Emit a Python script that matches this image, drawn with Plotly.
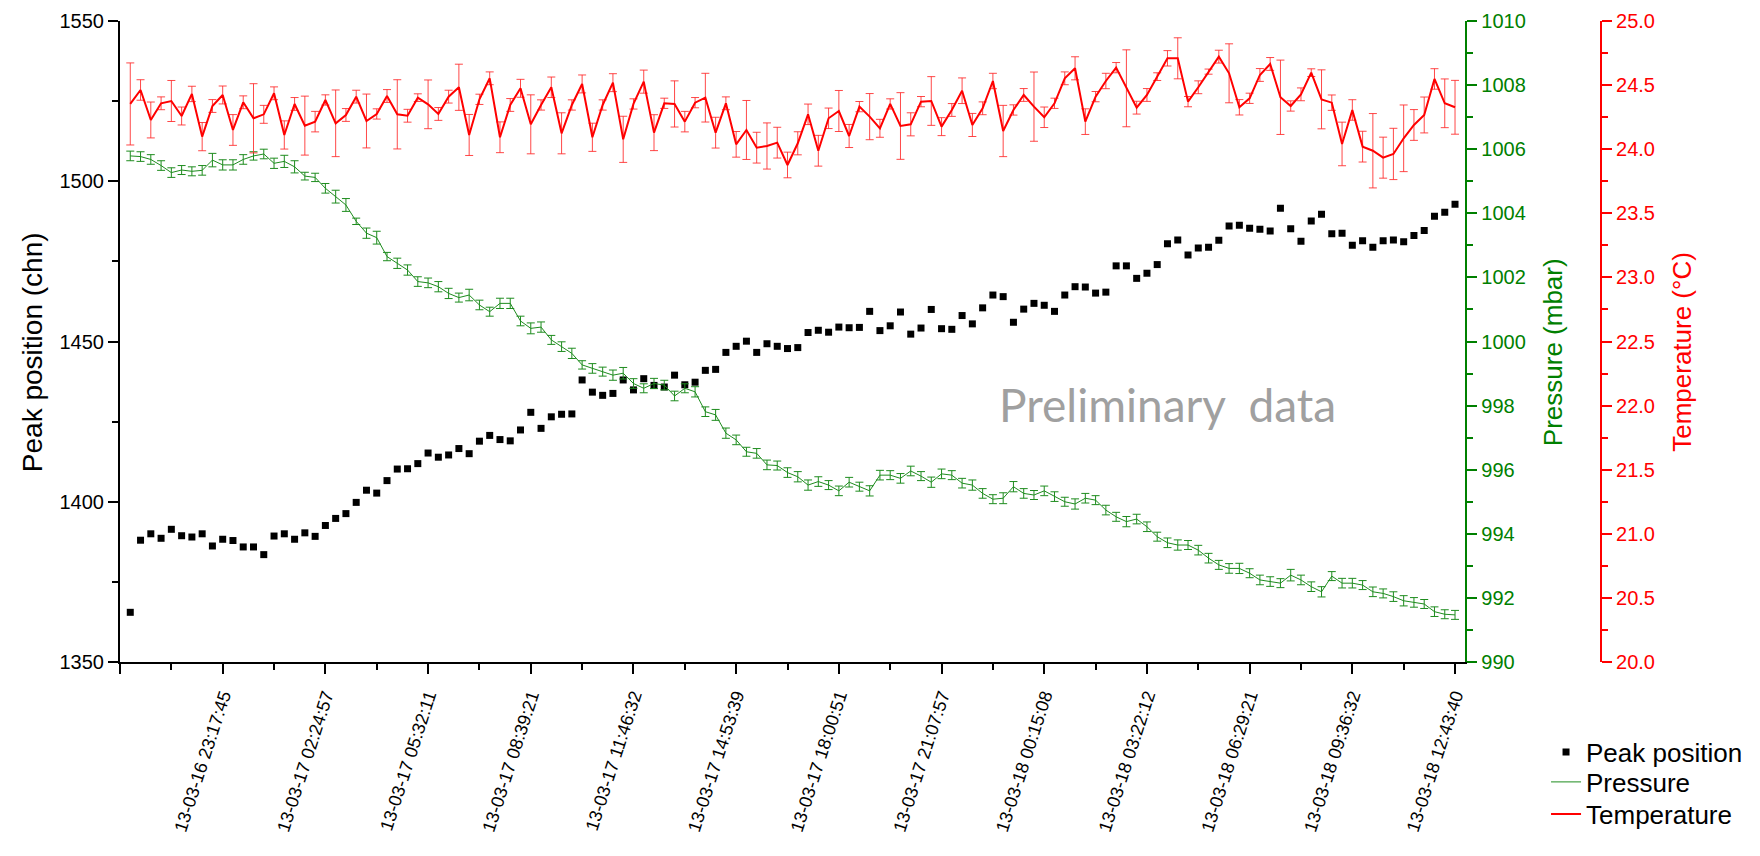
import plotly.graph_objects as go

# ---------------- data ----------------
sample_index = list(range(130))

tick_index = [9, 19, 29, 39, 49, 59, 69, 79, 89, 99, 109, 119, 129]
tick_labels = ["13-03-16 23:17:45", "13-03-17 02:24:57", "13-03-17 05:32:11",
               "13-03-17 08:39:21", "13-03-17 11:46:32", "13-03-17 14:53:39",
               "13-03-17 18:00:51", "13-03-17 21:07:57", "13-03-18 00:15:08",
               "13-03-18 03:22:12", "13-03-18 06:29:21", "13-03-18 09:36:32",
               "13-03-18 12:43:40"]

peak_position = [
    1365.5, 1388.0, 1390.0, 1388.6, 1391.4, 1389.4, 1389.0, 1390.0, 1386.2, 1388.3,
    1387.9, 1385.9, 1385.9, 1383.5, 1389.3, 1390.0, 1388.3, 1390.3, 1389.2, 1392.6,
    1394.8, 1396.3, 1399.8, 1403.6, 1402.7, 1406.6, 1410.2, 1410.3, 1411.9, 1415.2,
    1413.9, 1414.6, 1416.6, 1415.0, 1418.9, 1420.7, 1419.4, 1419.0, 1422.4, 1427.9,
    1422.9, 1426.5, 1427.3, 1427.4, 1438.0, 1434.2, 1433.2, 1433.8, 1438.0, 1434.9,
    1438.4, 1436.3, 1435.8, 1439.5, 1436.5, 1437.3, 1441.0, 1441.3, 1446.6, 1448.5,
    1450.1, 1446.6, 1449.3, 1448.5, 1447.8, 1448.1, 1452.8, 1453.5, 1452.9, 1454.5,
    1454.3, 1454.4, 1459.4, 1453.4, 1454.9, 1459.2, 1452.3, 1454.2, 1460.0, 1454.0,
    1453.8, 1458.1, 1455.5, 1460.5, 1464.5, 1464.0, 1456.0, 1460.1, 1461.9, 1461.3,
    1459.4, 1464.5, 1467.1, 1467.0, 1465.1, 1465.4, 1473.6, 1473.6, 1469.7, 1471.3,
    1474.0, 1480.5, 1481.7, 1477.0, 1479.2, 1479.4, 1481.6, 1486.0, 1486.3, 1485.3,
    1485.0, 1484.5, 1491.6, 1485.2, 1481.3, 1487.6, 1489.7, 1483.6, 1483.8, 1480.0,
    1481.4, 1479.4, 1481.4, 1481.7, 1481.1, 1483.1, 1484.6, 1489.1, 1490.3, 1492.8,
]

pressure = [
    1005.79, 1005.77, 1005.68, 1005.49, 1005.27, 1005.35, 1005.31, 1005.34, 1005.66, 1005.51,
    1005.51, 1005.68, 1005.79, 1005.85, 1005.56, 1005.62, 1005.45, 1005.16, 1005.12, 1004.78,
    1004.52, 1004.26, 1003.75, 1003.38, 1003.24, 1002.65, 1002.44, 1002.23, 1001.87, 1001.83,
    1001.71, 1001.50, 1001.37, 1001.45, 1001.14, 1000.93, 1001.19, 1001.19, 1000.64, 1000.41,
    1000.45, 1000.05, 999.84, 999.63, 999.27, 999.16, 999.06, 998.95, 999.01, 998.69,
    998.54, 998.69, 998.64, 998.30, 998.54, 998.43, 997.81, 997.71, 997.14, 996.93,
    996.56, 996.51, 996.15, 996.13, 995.91, 995.78, 995.52, 995.63, 995.52, 995.34,
    995.61, 995.47, 995.34, 995.83, 995.83, 995.73, 995.96, 995.80, 995.61, 995.87,
    995.83, 995.58, 995.52, 995.26, 995.08, 995.11, 995.47, 995.26, 995.21, 995.34,
    995.16, 995.00, 994.93, 995.11, 995.05, 994.74, 994.53, 994.38, 994.46, 994.22,
    993.91, 993.72, 993.65, 993.65, 993.49, 993.24, 993.03, 992.92, 992.92, 992.77,
    992.56, 992.51, 992.46, 992.71, 992.56, 992.35, 992.19, 992.68, 992.46, 992.46,
    992.40, 992.19, 992.14, 992.04, 991.91, 991.86, 991.81, 991.57, 991.49, 991.47,
]

pressure_err = [
    0.15, 0.15, 0.15, 0.15, 0.15, 0.14, 0.14, 0.15, 0.21, 0.16,
    0.16, 0.15, 0.13, 0.15, 0.16, 0.19, 0.19, 0.12, 0.13, 0.15,
    0.20, 0.20, 0.10, 0.16, 0.20, 0.13, 0.16, 0.16, 0.15, 0.15,
    0.16, 0.16, 0.14, 0.18, 0.15, 0.14, 0.16, 0.16, 0.15, 0.17,
    0.16, 0.14, 0.15, 0.16, 0.13, 0.15, 0.14, 0.16, 0.18, 0.15,
    0.14, 0.16, 0.15, 0.15, 0.14, 0.16, 0.15, 0.17, 0.16, 0.15,
    0.14, 0.15, 0.15, 0.14, 0.15, 0.16, 0.16, 0.15, 0.14, 0.15,
    0.15, 0.14, 0.16, 0.15, 0.14, 0.15, 0.15, 0.14, 0.16, 0.15,
    0.14, 0.15, 0.16, 0.15, 0.14, 0.17, 0.16, 0.15, 0.14, 0.15,
    0.15, 0.14, 0.16, 0.15, 0.14, 0.15, 0.14, 0.16, 0.15, 0.15,
    0.14, 0.15, 0.16, 0.14, 0.15, 0.15, 0.14, 0.15, 0.16, 0.14,
    0.15, 0.15, 0.14, 0.18, 0.15, 0.15, 0.16, 0.14, 0.15, 0.15,
    0.14, 0.15, 0.14, 0.15, 0.16, 0.15, 0.14, 0.15, 0.14, 0.14,
]

temperature = [
    24.353, 24.462, 24.228, 24.358, 24.376, 24.259, 24.431, 24.098, 24.337, 24.423,
    24.150, 24.366, 24.241, 24.272, 24.436, 24.111, 24.353, 24.184, 24.215, 24.384,
    24.202, 24.267, 24.410, 24.220, 24.275, 24.415, 24.272, 24.261, 24.402, 24.350,
    24.275, 24.410, 24.483, 24.111, 24.389, 24.553, 24.093, 24.345, 24.475, 24.194,
    24.345, 24.483, 24.124, 24.345, 24.509, 24.093, 24.345, 24.519, 24.077, 24.353,
    24.527, 24.129, 24.358, 24.353, 24.215, 24.363, 24.402, 24.129, 24.358, 24.038,
    24.150, 24.012, 24.025, 24.051, 23.877, 24.046, 24.272, 23.988, 24.241, 24.298,
    24.103, 24.332, 24.254, 24.163, 24.353, 24.181, 24.194, 24.371, 24.376, 24.176,
    24.306, 24.456, 24.189, 24.319, 24.532, 24.142, 24.306, 24.423, 24.332, 24.249,
    24.358, 24.553, 24.631, 24.215, 24.410, 24.532, 24.636, 24.475, 24.324, 24.423,
    24.566, 24.709, 24.709, 24.371, 24.483, 24.605, 24.722, 24.592, 24.327, 24.397,
    24.579, 24.665, 24.405, 24.337, 24.428, 24.597, 24.389, 24.363, 24.041, 24.306,
    24.020, 23.988, 23.934, 23.963, 24.085, 24.189, 24.267, 24.548, 24.358, 24.327,
]

temperature_err = [
    0.32, 0.08, 0.14, 0.05, 0.16, 0.07, 0.06, 0.11, 0.05, 0.07,
    0.12, 0.05, 0.27, 0.07, 0.05, 0.11, 0.05, 0.23, 0.08, 0.04,
    0.26, 0.05, 0.05, 0.21, 0.04, 0.05, 0.27, 0.05, 0.03, 0.19,
    0.05, 0.05, 0.18, 0.16, 0.04, 0.05, 0.12, 0.05, 0.07, 0.23,
    0.04, 0.08, 0.16, 0.04, 0.07, 0.11, 0.04, 0.07, 0.18, 0.04,
    0.09, 0.14, 0.04, 0.18, 0.08, 0.04, 0.19, 0.12, 0.05, 0.10,
    0.23, 0.12, 0.18, 0.12, 0.10, 0.09, 0.08, 0.12, 0.08, 0.16,
    0.09, 0.04, 0.18, 0.07, 0.04, 0.26, 0.09, 0.04, 0.19, 0.07,
    0.05, 0.10, 0.09, 0.05, 0.06, 0.20, 0.04, 0.05, 0.27, 0.08,
    0.04, 0.05, 0.09, 0.10, 0.04, 0.06, 0.04, 0.30, 0.05, 0.05,
    0.03, 0.06, 0.16, 0.04, 0.05, 0.02, 0.05, 0.23, 0.06, 0.04,
    0.05, 0.05, 0.29, 0.04, 0.05, 0.03, 0.23, 0.06, 0.17, 0.08,
    0.12, 0.29, 0.16, 0.20, 0.26, 0.12, 0.14, 0.08, 0.19, 0.21,
]

# ---------------- styling ----------------
FONT = "Arial, Liberation Sans, sans-serif"
GREEN = "#008000"
RED = "#ff0000"
PRESSURE_LINE = "rgb(30,140,30)"

fig = go.Figure()

fig.add_trace(go.Scatter(
    x=sample_index, y=peak_position, name="Peak position", mode="markers",
    marker=dict(symbol="square", size=7, color="black"),
    yaxis="y", legend="legend"))

fig.add_trace(go.Scatter(
    x=sample_index, y=pressure, name="Pressure", mode="lines",
    line=dict(color=PRESSURE_LINE, width=1),
    error_y=dict(type="data", array=pressure_err, color=PRESSURE_LINE,
                 thickness=1, width=4),
    yaxis="y2", legend="legend2"))

fig.add_trace(go.Scatter(
    x=sample_index, y=temperature, name="Temperature", mode="lines",
    line=dict(color=RED, width=2),
    error_y=dict(type="data", array=temperature_err, color="rgba(255,40,40,0.85)",
                 thickness=1, width=4),
    yaxis="y3", legend="legend3"))

X_DOMAIN_END = 0.9047
LEG_X = 0.959
legend_common = dict(x=LEG_X, xanchor="left", yanchor="middle",
                     font=dict(size=26, family=FONT, color="black"),
                     bgcolor="rgba(0,0,0,0)", itemwidth=30)

fig.update_layout(
    template="none",
    width=1760, height=856,
    margin=dict(l=120, r=150, t=21, b=194, pad=0),
    plot_bgcolor="white", paper_bgcolor="white",
    font=dict(family=FONT, color="black", size=18),
    showlegend=True,
    legend=dict(y=-0.1404, **legend_common),
    legend2=dict(y=-0.1872, **legend_common),
    legend3=dict(y=-0.2371, **legend_common),
    xaxis=dict(
        domain=[0, X_DOMAIN_END], range=[-1, 130], automargin=False,
        showline=True, linecolor="black", linewidth=2, mirror=False,
        showgrid=False, zeroline=False,
        tickmode="array", tickvals=[-1] + tick_index, ticktext=[""] + tick_labels,
        ticks="outside", ticklen=10, tickwidth=2, tickcolor="black",
        tickangle=-72, tickfont=dict(size=18, family=FONT, color="black"),
        ticklabelstandoff=4,
        minor=dict(ticks="outside", ticklen=6, tickwidth=2, tickcolor="black",
                   tickmode="linear", tick0=4, dtick=10, showgrid=False),
    ),
    yaxis=dict(
        range=[1350, 1550], automargin=False,
        showline=True, linecolor="black", linewidth=2,
        showgrid=False, zeroline=False,
        tickmode="linear", tick0=1350, dtick=50,
        ticks="outside", ticklen=10, tickwidth=2, tickcolor="black",
        tickfont=dict(size=20, family=FONT, color="black"),
        minor=dict(ticks="outside", ticklen=6, tickwidth=2, tickcolor="black",
                   tickmode="linear", tick0=1350, dtick=25, showgrid=False),
    ),
    yaxis2=dict(
        overlaying="y", side="right", anchor="x", range=[990, 1010], automargin=False,
        showline=True, linecolor=GREEN, linewidth=2,
        showgrid=False, zeroline=False,
        tickmode="linear", tick0=990, dtick=2,
        ticks="outside", ticklen=10, tickwidth=2, tickcolor=GREEN,
        tickfont=dict(size=20, family=FONT, color=GREEN),
        minor=dict(ticks="outside", ticklen=6, tickwidth=2, tickcolor=GREEN,
                   tickmode="linear", tick0=990, dtick=1, showgrid=False),
    ),
    yaxis3=dict(
        overlaying="y", side="right", anchor="free", position=0.996,
        range=[20, 25], automargin=False,
        showline=True, linecolor=RED, linewidth=2,
        showgrid=False, zeroline=False,
        tickmode="linear", tick0=20, dtick=0.5, tickformat=".1f",
        ticks="outside", ticklen=10, tickwidth=2, tickcolor=RED,
        tickfont=dict(size=20, family=FONT, color=RED),
        minor=dict(ticks="outside", ticklen=6, tickwidth=2, tickcolor=RED,
                   tickmode="linear", tick0=20, dtick=0.25, showgrid=False),
    ),
    annotations=[
        dict(text="Preliminary\u00a0 data", xref="paper", yref="paper",
             x=0.7047, y=0.401, xanchor="center", yanchor="middle", showarrow=False,
             font=dict(size=46, family="Lato, Open Sans, sans-serif", color="rgb(160,160,160)")),
        dict(text="Peak position (chn)", xref="paper", yref="paper",
             x=-0.0591, y=0.4836, xanchor="center", yanchor="middle", showarrow=False,
             textangle=-90, font=dict(size=28, family=FONT, color="black")),
        dict(text="Pressure (mbar)", xref="paper", yref="paper",
             x=0.9638, y=0.4836, xanchor="center", yanchor="middle", showarrow=False,
             textangle=-90, font=dict(size=26, family=FONT, color=GREEN)),
        dict(text="Temperature (°C)", xref="paper", yref="paper",
             x=1.0503, y=0.4836, xanchor="center", yanchor="middle", showarrow=False,
             textangle=-90, font=dict(size=26, family=FONT, color=RED)),
    ],
)

fig.write_html("out.html", config={"displayModeBar": False},
               post_script="document.body.style.margin='0';")
